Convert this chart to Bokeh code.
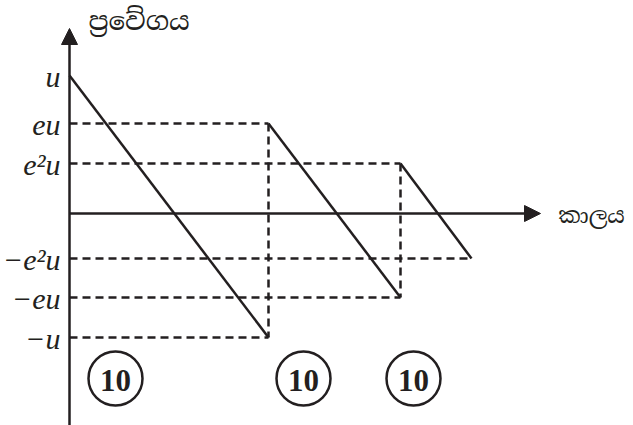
from bokeh.plotting import figure
from bokeh.models import Arrow, NormalHead, ColumnDataSource
from bokeh.core.properties import value
from bokeh.embed import file_html
from bokeh.resources import INLINE

# Velocity levels of the bouncing ball (arbitrary units)
level_labels = ["u", "eu", "e\u00b2u", "\u2212e\u00b2u", "\u2212eu", "\u2212u"]
level_values = [13.8, 9.0, 5.0, -4.5, -8.4, -12.4]

# Each flight: start time, start velocity, end time, end velocity
seg_t0 = [0.0, 19.9, 33.1]
seg_v0 = [13.8, 9.0, 5.0]
seg_t1 = [19.9, 33.1, 40.2]
seg_v1 = [-12.4, -8.4, -4.5]

# Guide lines: horizontal dashes from the axis to each flight's end/start
guide_levels = [9.0, 5.0, -12.4, -8.4, -4.5]
guide_ends = [19.9, 33.1, 19.9, 33.1, 40.2]

# Marks boxes
mark_text = ["10", "10", "10"]
mark_t = [4.6, 23.4, 34.4]
mark_v = [-16.5, -16.5, -16.5]

y_title = "\u0db4\u0dca\u200d\u0dbb\u0dc0\u0dda\u0d9c\u0dba"
x_title = "\u0d9a\u0dcf\u0dbd\u0dba"

p = figure(width=633, height=425, x_range=(-6.9, 56.4), y_range=(-21.2, 21.3),
           output_backend="svg", toolbar_location=None, min_border=0)
p.axis.visible = False
p.grid.visible = False
p.outline_line_color = None
p.background_fill_color = "white"
p.border_fill_color = "white"

ink = "#231f20"
serif = value("'Liberation Serif', 'Times New Roman', Times, serif")
sinhala = value("Noto Serif Sinhala, Noto Sans Sinhala, serif")

# dashed horizontal guides
p.segment(x0=[0] * len(guide_levels), y0=guide_levels, x1=guide_ends, y1=guide_levels,
          line_color=ink, line_width=2.5, line_dash="8 5")
# dashed vertical guides at the bounces
p.segment(x0=seg_t1[:2], y0=seg_v0[1:], x1=seg_t1[:2], y1=seg_v1[:2],
          line_color=ink, line_width=2.5, line_dash="8 5")

# velocity-time segments
p.segment(x0=seg_t0, y0=seg_v0, x1=seg_t1, y1=seg_v1, line_color=ink, line_width=2.5)

# axes with arrow heads
p.add_layout(Arrow(end=NormalHead(size=16, fill_color=ink, line_color=ink),
                   x_start=0, y_start=-21.2, x_end=0, y_end=18.5,
                   line_color=ink, line_width=2.5))
p.add_layout(Arrow(end=NormalHead(size=16, fill_color=ink, line_color=ink),
                   x_start=0, y_start=0, x_end=47.1, y_end=0,
                   line_color=ink, line_width=2.5))

# level labels
src = ColumnDataSource(dict(x=[0] * len(level_values), y=level_values, t=level_labels))
p.text(x="x", y="y", text="t", source=src, text_align="right", text_baseline="middle",
       x_offset=-9, y_offset=1, text_font=serif, text_font_style="italic",
       text_font_size="30px", text_color=ink)

# axis titles
p.text(x=[1.9], y=[19.3], text=[y_title], text_align="left", text_baseline="middle",
       text_font=sinhala, text_font_size="26px", text_color=ink)
p.text(x=[48.9], y=[-0.2], text=[x_title], text_align="left", text_baseline="middle",
       text_font=sinhala, text_font_size="22px", text_color=ink)

# circled marks
p.scatter(x=mark_t, y=mark_v, marker="circle", size=54, fill_color=None,
          line_color=ink, line_width=2.5)
p.text(x=mark_t, y=mark_v, text=mark_text, text_align="center", text_baseline="middle",
       y_offset=2, text_font=serif, text_font_style="bold",
       text_font_size="31px", text_color=ink)

open("out.html", "w").write(file_html(p, INLINE))
